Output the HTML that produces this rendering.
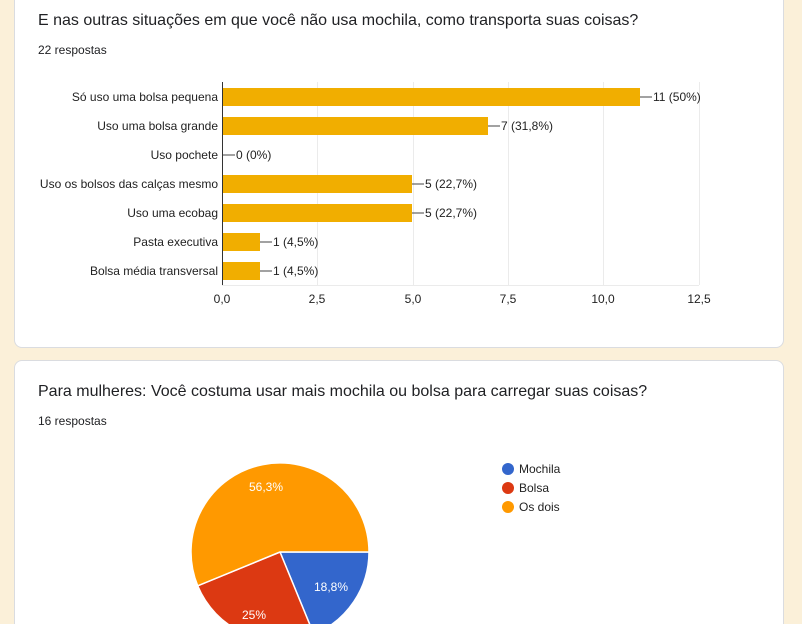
<!DOCTYPE html><html style="height:624px;overflow:hidden"><head><meta charset="utf-8"><style>
body{margin:0;width:802px;height:624px;background:#fbf0d9;position:relative;overflow:hidden;font-family:"Liberation Sans",Arial,sans-serif}
.card{position:absolute;left:14px;width:768px;background:#fff;border:1px solid #dadce0;border-radius:8px}
.t{position:absolute;left:38px;font-size:16px;color:#202124}
.s{position:absolute;left:38px;font-size:12px;color:#202124}
</style></head><body>
<div class="card" style="top:-10px;height:356px"></div>
<div class="card" style="top:360px;height:275px"></div>
<div class="t" style="top:12px">E nas outras situações em que você não usa mochila, como transporta suas coisas?</div>
<div class="s" style="top:43px">22 respostas</div>
<div class="t" style="top:383px">Para mulheres: Você costuma usar mais mochila ou bolsa para carregar suas coisas?</div>
<div class="s" style="top:414px">16 respostas</div>
<svg width="802" height="624" style="position:absolute;left:0;top:0" font-family="Liberation Sans,Arial,sans-serif" font-size="12" fill="#222">
<g stroke="#ebebeb"><line x1="317.5" y1="82" x2="317.5" y2="285"/><line x1="413.5" y1="82" x2="413.5" y2="285"/><line x1="508.5" y1="82" x2="508.5" y2="285"/><line x1="603.5" y1="82" x2="603.5" y2="285"/><line x1="699.5" y1="82" x2="699.5" y2="285"/><line x1="222" y1="285.5" x2="699" y2="285.5"/></g>
<g fill="#f1ae00">
<rect x="222" y="88" width="418" height="18"/><rect x="222" y="117" width="266" height="18"/><rect x="222" y="175" width="190" height="18"/><rect x="222" y="204" width="190" height="18"/><rect x="222" y="233" width="38" height="18"/><rect x="222" y="262" width="38" height="18"/></g>
<line x1="222.5" y1="82" x2="222.5" y2="285" stroke="#333"/>
<g stroke="#444"><line x1="640" y1="97" x2="652" y2="97"/><line x1="488" y1="126" x2="500" y2="126"/><line x1="223" y1="155" x2="235" y2="155"/><line x1="412" y1="184" x2="424" y2="184"/><line x1="412" y1="213" x2="424" y2="213"/><line x1="260" y1="242" x2="272" y2="242"/><line x1="260" y1="271" x2="272" y2="271"/></g>
<g text-anchor="end"><text x="218" y="101">Só uso uma bolsa pequena</text><text x="218" y="130">Uso uma bolsa grande</text><text x="218" y="159">Uso pochete</text><text x="218" y="188">Uso os bolsos das calças mesmo</text><text x="218" y="217">Uso uma ecobag</text><text x="218" y="246">Pasta executiva</text><text x="218" y="275">Bolsa média transversal</text></g>
<text x="653" y="101">11 (50%)</text><text x="501" y="130">7 (31,8%)</text><text x="236" y="159">0 (0%)</text><text x="425" y="188">5 (22,7%)</text><text x="425" y="217">5 (22,7%)</text><text x="273" y="246">1 (4,5%)</text><text x="273" y="275">1 (4,5%)</text>
<g text-anchor="middle"><text x="222" y="303">0,0</text><text x="317" y="303">2,5</text><text x="413" y="303">5,0</text><text x="508" y="303">7,5</text><text x="603" y="303">10,0</text><text x="699" y="303">12,5</text></g>
<g stroke="#fff" stroke-width="1.5">
<path d="M280 552 L369 552 A89 89 0 0 1 313.8 634.3Z" fill="#3366cc"/>
<path d="M280 552 L313.8 634.3 A89 89 0 0 1 197.7 585.8Z" fill="#dc3912"/>
<path d="M280 552 L197.7 585.8 A89 89 0 1 1 369 552Z" fill="#ff9900"/></g>
<g fill="#fff" text-anchor="middle"><text x="266" y="491">56,3%</text><text x="331" y="591">18,8%</text><text x="254" y="619">25%</text></g>
<circle cx="508" cy="469" r="6" fill="#3366cc"/><circle cx="508" cy="488" r="6" fill="#dc3912"/><circle cx="508" cy="507" r="6" fill="#ff9900"/>
<text x="519" y="473">Mochila</text><text x="519" y="492">Bolsa</text><text x="519" y="511">Os dois</text>
</svg>
</body></html>
